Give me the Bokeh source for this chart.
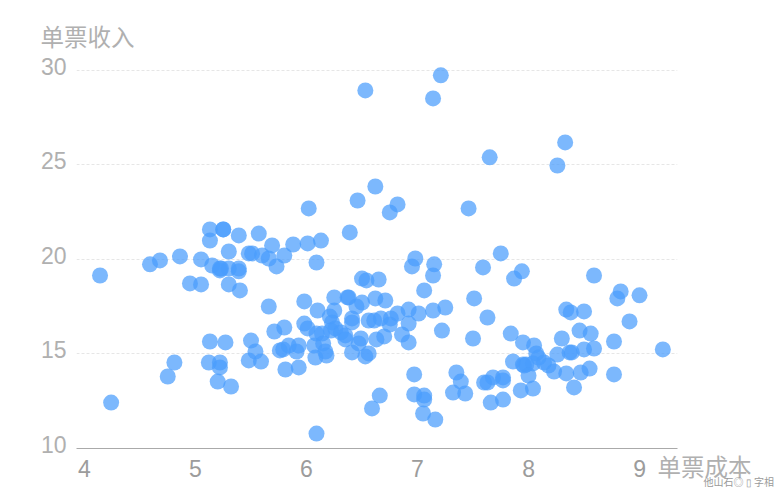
from bokeh.plotting import figure
from bokeh.models import Range1d, FixedTicker
from bokeh.core.properties import value
from bokeh.embed import file_html
from bokeh.resources import INLINE

x_ticks = [4, 5, 6, 7, 8, 9]
y_ticks = [10, 15, 20, 25, 30]
x_name = "单票成本"
y_name = "单票收入"
credit = "他山石◎ ▯ 字相"

left_x = [4.14,4.24,4.59,4.68,4.86,4.95,5.05,5.05,5.13,5.13,5.15,5.25,5.25,5.39,5.30,5.22,5.23,5.22,5.30,5.39,5.39,5.30,5.40,5.48,5.51,5.57,5.60,5.66,5.69,5.80,5.73,5.88,6.01,6.13,6.02,6.09,5.66,5.71,5.80,5.13,5.27,5.50,5.54,5.48,5.59,5.76,5.79,5.84,5.91,5.93,5.81,5.93,4.81,4.75,5.12,5.22,5.22,5.20,5.32,6.09]
left_y = [19.15,12.43,19.74,19.95,20.16,18.73,18.68,20.0,21.59,21.0,19.68,21.59,21.59,21.27,20.42,19.42,19.52,19.52,19.52,19.52,19.37,18.68,18.36,20.32,20.32,21.37,20.21,20.05,20.74,20.21,19.63,20.79,20.85,21.0,22.7,19.84,17.51,16.19,16.4,15.66,15.61,15.71,15.13,14.66,14.6,15.19,15.24,15.45,15.13,15.45,14.18,14.29,14.55,13.81,14.55,14.55,14.29,13.54,13.28,10.79]

mid_x = [5.98,5.98,6.01,6.10,6.07,6.08,6.09,6.14,6.15,6.17,6.18,6.21,6.23,6.25,6.25,6.22,6.26,6.31,6.35,6.35,6.38,6.37,6.39,6.41,6.41,6.45,6.41,6.46,6.47,6.49,6.50,6.54,6.50,6.53,6.53,6.56,6.56,6.61,6.62,6.62,6.65,6.63,6.59,6.66,6.67,6.71,6.70,6.75,6.82,6.75,6.76,6.82,6.86,6.92,6.92,6.92,6.95,6.98,7.01,7.06,7.14,7.15,7.14,7.14,7.21,7.22,7.25,6.97,6.97,7.06,7.06,7.05,7.16]
mid_y = [17.78,16.61,16.35,17.3,15.45,14.81,16.08,16.08,15.56,15.13,14.92,16.98,16.67,17.3,17.99,16.24,16.35,16.14,15.98,15.77,17.99,17.99,21.43,16.67,16.88,17.51,15.08,23.12,15.56,15.82,18.99,18.89,17.72,28.94,14.87,15.03,16.77,16.77,17.94,23.86,18.94,15.77,12.12,12.8,16.88,17.83,15.93,22.49,22.91,16.56,16.88,17.14,16.03,17.35,16.61,15.61,19.63,20.05,17.14,18.36,17.3,19.74,19.15,28.52,29.74,16.24,17.46,13.92,12.86,12.8,12.59,11.85,11.53]

right_x = [7.35,7.39,7.32,7.43,7.60,7.63,7.68,7.77,7.77,7.66,7.77,7.84,7.95,8.05,8.07,8.09,7.86,7.95,7.98,7.96,8.04,8.0,7.93,8.04,8.14,8.18,8.23,8.26,8.30,8.34,8.37,8.39,8.47,8.55,8.41,8.46,8.56,8.50,8.59,8.34,8.38,8.50,8.77,8.91,8.77,9.21,8.80,8.83,9.0,7.63,7.51,7.50,7.46,7.65,7.59,7.75,7.87,7.94,8.59,8.26,8.33]
right_y = [14.02,13.54,12.96,12.91,13.49,13.49,13.76,13.76,13.6,12.43,12.59,16.08,15.61,15.45,15.03,14.81,14.6,14.44,14.44,14.39,14.5,13.86,13.07,13.17,14.55,14.39,14.07,14.97,15.82,13.97,15.08,15.08,14.02,14.23,13.23,16.24,16.08,15.24,15.29,17.35,17.2,17.25,15.66,16.72,13.92,15.24,17.94,18.31,18.1,16.93,17.94,15.82,22.7,25.4,19.58,20.32,18.99,19.37,19.15,24.97,26.19]

GREY = "#9c9c9c"
SOFT = "#b0b0b0"
NUM_FONT = "Liberation Sans"
CJK_FONT = "Noto Sans CJK SC"
X0 = 3.928

p = figure(width=780, height=496, output_backend="svg", toolbar_location=None,
           x_range=Range1d(X0, 9.342), y_range=Range1d(10, 31),
           min_border_left=76, min_border_right=103, min_border_top=51, min_border_bottom=48)
p.outline_line_color = None

p.xgrid.visible = False
p.ygrid.ticker = FixedTicker(ticks=y_ticks)
p.ygrid.grid_line_color = "#e6e6e6"
p.ygrid.grid_line_dash = "3 2"
p.ygrid.grid_line_width = 1

p.xaxis.ticker = FixedTicker(ticks=x_ticks)
p.xaxis.axis_line_color = "#aaaaaa"
p.xaxis.axis_line_width = 1
p.xaxis.major_tick_line_color = None
p.xaxis.minor_tick_line_color = None
p.xaxis.major_label_text_color = GREY
p.xaxis.major_label_text_font = NUM_FONT
p.xaxis.major_label_text_font_size = "23px"
p.xaxis.major_label_standoff = 5

p.yaxis.visible = False

p.scatter(left_x + mid_x + right_x, left_y + mid_y + right_y, size=16, marker="circle",
          fill_color="#4A9DFC", fill_alpha=0.72, line_color=None)

p.text([X0] * len(y_ticks), y_ticks, text=[str(t) for t in y_ticks], x_offset=-10, y_offset=-4,
       text_align="right", text_baseline="middle", text_color=SOFT,
       text_font=value(NUM_FONT), text_font_size="23px", level="overlay")
p.text([X0], [y_ticks[-1]], text=[y_name], x_offset=-36, y_offset=-34,
       text_align="left", text_baseline="middle", text_color=SOFT,
       text_font=value(CJK_FONT), text_font_size="23.5px", level="overlay")
p.text([x_ticks[-1]], [y_ticks[0]], text=[x_name], x_offset=18, y_offset=17,
       text_align="left", text_baseline="middle", text_color=SOFT,
       text_font=value(CJK_FONT), text_font_size="23.5px", level="overlay")
p.text([x_ticks[-1]], [y_ticks[0]], text=[credit], x_offset=64, y_offset=33,
       text_align="left", text_baseline="middle", text_color="#9a9a9a",
       text_font=value(CJK_FONT), text_font_size="10px", level="overlay")

open("out.html", "w").write(file_html(p, INLINE))
